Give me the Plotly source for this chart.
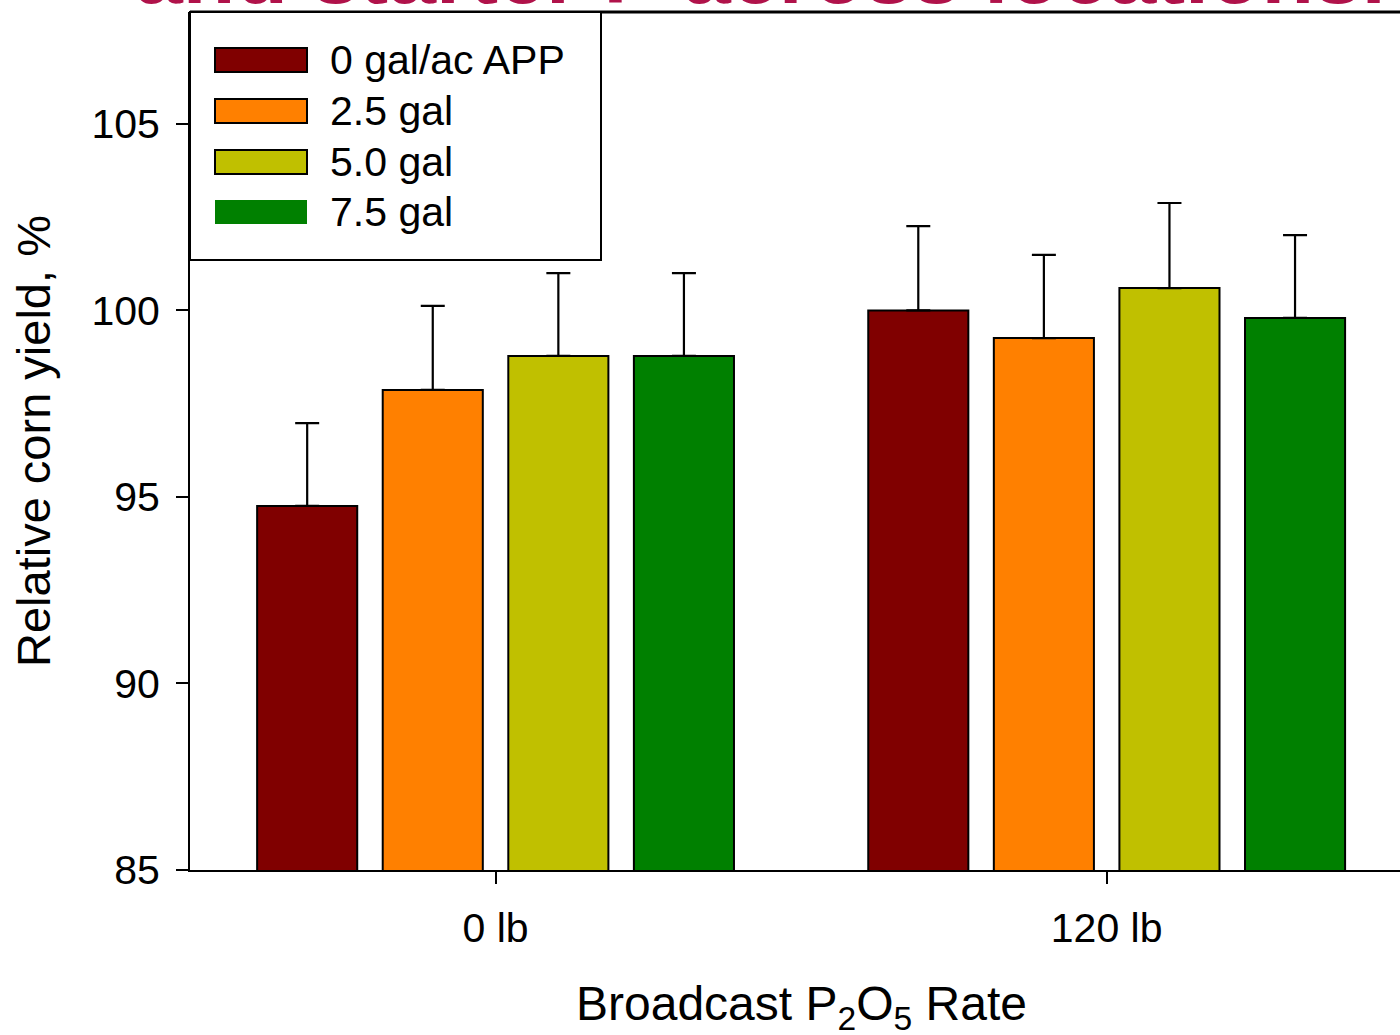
import plotly.graph_objects as go

categories = ["0 lb", "120 lb"]
series_names = ["0 gal/ac APP", "2.5 gal", "5.0 gal", "7.5 gal"]
series_colors = ["#800000", "#FF8000", "#C0C000", "#008000"]
yield_vals = [
    [94.76, 100.00],
    [97.87, 99.26],
    [98.78, 100.60],
    [98.78, 99.80],
]
err_vals = [
    [2.22, 2.26],
    [2.25, 2.23],
    [2.22, 2.28],
    [2.22, 2.22],
]
y_ticks = [85, 90, 95, 100, 105]

FONT = "Arial, Liberation Sans, sans-serif"

# Plot area in pixels
L, R, T, B = 190, 1400, 12, 870
W, H = 1400, 1035


def px_x(px):
    return (px - L) / (R - L)


def px_y(py):
    return (B - py) / (B - T)


fig = go.Figure()
x_pos = list(range(len(categories)))
for name, color, vals, errs in zip(series_names, series_colors, yield_vals, err_vals):
    fig.add_trace(go.Bar(
        x=x_pos, y=vals, name=name,
        marker=dict(color=color, line=dict(color="black", width=2)),
        error_y=dict(type="data", array=errs, arrayminus=[0] * len(errs), symmetric=False,
                     color="black", thickness=2.2, width=12),
        showlegend=False,
    ))

shapes = []
annotations = []

# Top frame line
shapes.append(dict(type="line", xref="paper", yref="paper", x0=0, x1=1, y0=1, y1=1,
                   line=dict(color="black", width=3), layer="above"))

# Custom legend box
shapes.append(dict(type="rect", xref="paper", yref="paper",
                   x0=px_x(190), x1=px_x(601), y0=px_y(260), y1=px_y(12),
                   fillcolor="white", line=dict(color="black", width=2), layer="above"))
row_centers = [60, 111, 162, 212]
for i, (name, color) in enumerate(zip(series_names, series_colors)):
    cy = row_centers[i]
    lw = 2 if i < 3 else 0
    shapes.append(dict(type="rect", xref="paper", yref="paper",
                       x0=px_x(215), x1=px_x(307), y0=px_y(cy + 12), y1=px_y(cy - 12),
                       fillcolor=color, line=dict(color="black", width=lw), layer="above"))
    annotations.append(dict(text=name, xref="paper", yref="paper", x=px_x(328), y=px_y(cy),
                            xanchor="left", yanchor="middle", showarrow=False,
                            font=dict(family=FONT, size=41, color="black")))

# Axis titles
annotations.append(dict(text="Relative corn yield, %", xref="paper", yref="paper",
                        x=px_x(33), y=px_y(441), textangle=-90, xanchor="center", yanchor="middle",
                        showarrow=False, font=dict(family=FONT, size=47, color="black")))
annotations.append(dict(text="Broadcast P<sub>2</sub>O<sub>5</sub> Rate", xref="paper", yref="paper",
                        x=px_x(801), y=px_y(1007), xanchor="center", yanchor="middle",
                        showarrow=False, font=dict(family=FONT, size=48, color="black")))

# Slide title, mostly cut off at the top
annotations.append(dict(text="<b>and starter P across locations.</b>", xref="paper", yref="paper",
                        x=px_x(760), y=px_y(23), xanchor="center", yanchor="bottom",
                        showarrow=False, font=dict(family=FONT, size=86, color="#B0124A")))

fig.update_layout(
    width=W, height=H,
    margin=dict(l=L, r=W - R, t=T, b=H - B, pad=0),
    paper_bgcolor="white", plot_bgcolor="white",
    barmode="group", bargap=0.178, bargroupgap=0.203,
    shapes=shapes, annotations=annotations,
    font=dict(family=FONT, color="black"),
)
fig.update_xaxes(range=[-0.5, 1.48], tickvals=x_pos, ticktext=categories,
                 showline=True, linecolor="black", linewidth=2, ticks="outside",
                 ticklen=12, tickwidth=2, tickcolor="black", showgrid=False, zeroline=False,
                 tickfont=dict(family=FONT, size=41, color="black"), ticklabelstandoff=9)
fig.update_yaxes(range=[85, 108], tickvals=y_ticks,
                 showline=True, linecolor="black", linewidth=2, ticks="outside",
                 ticklen=12, tickwidth=2, tickcolor="black", showgrid=False, zeroline=False,
                 tickfont=dict(family=FONT, size=41, color="black"), ticklabelstandoff=8)

fig.write_html("out.html", config={"displayModeBar": False},
               post_script="document.body.style.margin='0';document.body.style.overflow='hidden';")
